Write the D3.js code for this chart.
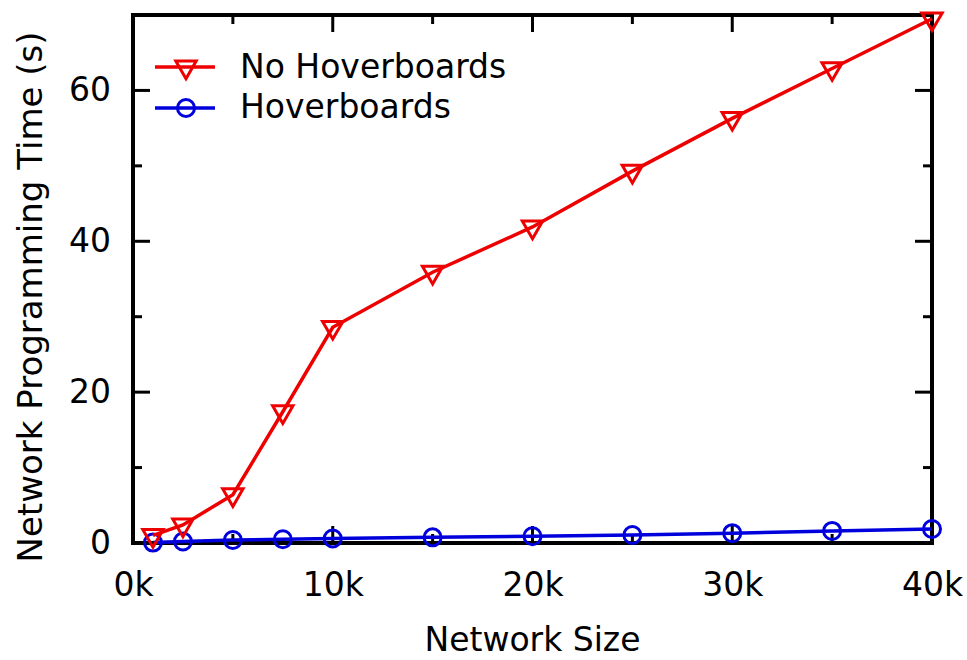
<!DOCTYPE html>
<html><head><meta charset="utf-8">
<script src="https://cdn.jsdelivr.net/npm/d3@7"></script>
<style>body{margin:0;background:#fff}svg{display:block}text{font-family:"DejaVu Sans",sans-serif;fill:#000}</style>
</head><body><svg id="c" width="967" height="660"></svg>
<script>
const sizes = [1000, 2500, 5000, 7500, 10000, 15000, 20000, 25000, 30000, 35000, 40000];
const noHover = [1.0, 2.4, 6.4, 17.4, 28.6, 35.9, 41.9, 49.3, 56.3, 62.9, 69.5];
const hover = [0.05, 0.2, 0.4, 0.5, 0.6, 0.75, 0.9, 1.06, 1.3, 1.6, 1.85];
const xTicks = [0, 10000, 20000, 30000, 40000];
const xTickLabels = ["0k", "10k", "20k", "30k", "40k"];
const xMinor = [5000, 15000, 25000, 35000];
const yTicks = [0, 20, 40, 60];
const yMinor = [10, 30, 50, 70];
const seriesNames = ["No Hoverboards", "Hoverboards"];
const colors = ["#ee0000", "#0000dd"];

const svg = d3.select("#c");
const L = 133, R = 932, T = 15, B = 543;
const x = d3.scaleLinear().domain([0, 40000]).range([L, R]);
const y = d3.scaleLinear().domain([0, 70]).range([B, T]);

const g = svg.append("g");
function ticks(vals, len) {
  vals.forEach(v => {
    g.append("line").attr("x1", x(v)).attr("x2", x(v)).attr("y1", B).attr("y2", B - len).attr("stroke", "#000").attr("stroke-width", 3);
    g.append("line").attr("x1", x(v)).attr("x2", x(v)).attr("y1", T).attr("y2", T + len).attr("stroke", "#000").attr("stroke-width", 3);
  });
}
ticks(xTicks, 17); ticks(xMinor, 9);
function yt(vals, len) {
  vals.forEach(v => {
    g.append("line").attr("y1", y(v)).attr("y2", y(v)).attr("x1", L).attr("x2", L + len).attr("stroke", "#000").attr("stroke-width", 3);
    g.append("line").attr("y1", y(v)).attr("y2", y(v)).attr("x1", R).attr("x2", R - len).attr("stroke", "#000").attr("stroke-width", 3);
  });
}
yt(yTicks, 17); yt(yMinor, 9);

const xAxis = d3.axisBottom(x).tickValues(xTicks).tickFormat((d, i) => xTickLabels[i]).tickSize(0).tickPadding(30);
const xa = svg.append("g").attr("transform", `translate(0,${B})`).call(xAxis);
const yAxis = d3.axisLeft(y).tickValues(yTicks).tickSize(0).tickPadding(22);
const ya = svg.append("g").attr("transform", `translate(${L},0)`).call(yAxis);
[xa, ya].forEach(a => { a.select(".domain").remove(); a.selectAll("text").style("font-size", "33px").style("font-family", "DejaVu Sans").attr("fill", "#000"); });

svg.append("rect").attr("x", L).attr("y", T).attr("width", R - L).attr("height", B - T).attr("fill", "none").attr("stroke", "#000").attr("stroke-width", 4);

svg.append("text").attr("x", (L + R) / 2).attr("y", 651).attr("text-anchor", "middle").style("font-size", "33px").text("Network Size");
svg.append("text").attr("transform", `translate(42,297) rotate(-90)`).attr("text-anchor", "middle").style("font-size", "34px").text("Network Programming Time (s)");

const line = d3.line().x((d, i) => x(sizes[i])).y(d => y(d));
const tri = d3.symbol().type(d3.symbolTriangle).size(180);

function marker(sel, m, cx, cy, color) {
  if (m === "tri") sel.append("path").attr("d", tri).attr("transform", `translate(${cx},${cy}) rotate(180)`).attr("fill", "none").attr("stroke", color).attr("stroke-width", 3);
  else sel.append("circle").attr("cx", cx).attr("cy", cy).attr("r", 8.5).attr("fill", "none").attr("stroke", color).attr("stroke-width", 3);
}
function drawSeries(vals, color, m) {
  svg.append("path").datum(vals).attr("d", line).attr("fill", "none").attr("stroke", color).attr("stroke-width", 3.5);
  vals.forEach((v, i) => marker(svg, m, x(sizes[i]), y(v), color));
}
drawSeries(hover, colors[1], "circ");
drawSeries(noHover, colors[0], "tri");

const leg = [{ name: seriesNames[0], c: colors[0], m: "tri", yy: 67, ty: 78 }, { name: seriesNames[1], c: colors[1], m: "circ", yy: 108, ty: 118 }];
leg.forEach(l => {
  svg.append("line").attr("x1", 155).attr("x2", 215).attr("y1", l.yy).attr("y2", l.yy).attr("stroke", l.c).attr("stroke-width", 3.5);
  marker(svg, l.m, 186, l.yy, l.c);
  svg.append("text").attr("x", 240).attr("y", l.ty).style("font-size", "33px").text(l.name);
});
</script></body></html>
